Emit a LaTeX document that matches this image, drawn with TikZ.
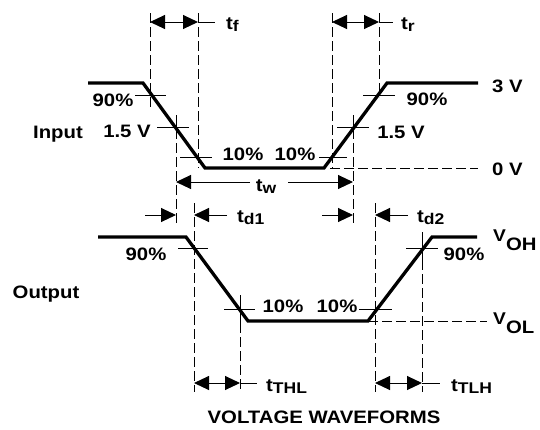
\documentclass[tikz,border=0pt]{standalone}
\usepackage{fontspec}
\usepackage{graphicx}
\setmainfont{Liberation Sans}
\usetikzlibrary{arrows.meta}
\newcommand{\wt}[1]{\scalebox{1.13}[1]{#1}}
\newcommand{\lsub}[2]{\wt{#1\raisebox{-2.5pt}{\fontsize{15.5}{15.5}\selectfont #2}}}
\newcommand{\vsub}[2]{\wt{{\fontsize{17}{17}\selectfont #1}\raisebox{-9pt}{#2}}}
\begin{document}
\begin{tikzpicture}[x=1pt,y=-1pt,
  wave/.style={line width=3.3pt, line join=miter},
  tickline/.style={line width=1pt},
  guide/.style={line width=1pt, dash pattern=on 10pt off 4pt},
  dimarrow/.style={line width=1pt, -{Triangle[length=15pt,width=14pt]}},
  dimboth/.style={line width=1pt, {Triangle[length=15pt,width=14pt]}-{Triangle[length=15pt,width=14pt]}},
  dimline/.style={line width=1pt},
  lbl/.style={font=\fontsize{18}{18}\selectfont\bfseries, inner sep=0pt, anchor=base},
  lblw/.style={lbl, anchor=base west},
  ]
\useasboundingbox (0,0) rectangle (540,429);

% ---------- input waveform ----------
\coordinate (i0) at (88,83);
\coordinate (i1) at (143,83);
\coordinate (i2) at (205,168);
\coordinate (i3) at (324,168);
\coordinate (i4) at (387,83);
\coordinate (i5) at (478,83);
\draw[wave] (i0) -- (i1) -- (i2) -- (i3) -- (i4) -- (i5);

% input guides
\coordinate (gA1) at (150,13);  \coordinate (gA2) at (150,108);
\coordinate (gB1) at (198,13);  \coordinate (gB2) at (198,168);
\coordinate (gC1) at (176,115); \coordinate (gC2) at (176,223);
\coordinate (gD1) at (332,13);  \coordinate (gD2) at (332,168);
\coordinate (gE1) at (353,115); \coordinate (gE2) at (353,223);
\coordinate (gF1) at (379,13);  \coordinate (gF2) at (379,97);
\coordinate (zv1) at (330,168); \coordinate (zv2) at (478,168);
\draw[guide] (gA1) -- (gA2);
\draw[guide] (gB1) -- (gB2);
\draw[guide] (gC1) -- (gC2);
\draw[guide] (gD1) -- (gD2);
\draw[guide] (gE1) -- (gE2);
\draw[guide] (gF1) -- (gF2);
\draw[guide] (zv1) -- (zv2);

% input ticks
\coordinate (t1a) at (135,95);  \coordinate (t1b) at (166,95);
\coordinate (t2a) at (157,127); \coordinate (t2b) at (189,127);
\coordinate (t3a) at (180,157); \coordinate (t3b) at (212,157);
\coordinate (t4a) at (319,157); \coordinate (t4b) at (347,157);
\coordinate (t5a) at (337,127); \coordinate (t5b) at (369,127);
\coordinate (t6a) at (363,95);  \coordinate (t6b) at (395,95);
\coordinate (v1a) at (176,115); \coordinate (v1b) at (176,139);
\coordinate (v2a) at (353,115); \coordinate (v2b) at (353,139);
\foreach \a/\b in {t1a/t1b,t2a/t2b,t3a/t3b,t4a/t4b,t5a/t5b,t6a/t6b,v1a/v1b,v2a/v2b}
  \draw[tickline] (\a) -- (\b);

% input dimension arrows
\coordinate (tfL) at (150,22); \coordinate (tfR) at (198,22); \coordinate (tfE) at (215,22);
\draw[dimboth] (tfL) -- (tfR);
\draw[dimline] (tfR) -- (tfE);
\node[lblw] (tf) at (226,29) {\lsub{t}{f}};

\coordinate (trL) at (332,22); \coordinate (trR) at (379,22); \coordinate (trE) at (393,22);
\draw[dimboth] (trL) -- (trR);
\draw[dimline] (trR) -- (trE);
\node[lblw] (tr) at (401,29) {\lsub{t}{r}};

\coordinate (twL) at (176,182); \coordinate (twR) at (353,182);
\coordinate (twa) at (250,182); \coordinate (twb) at (288,182);
\node[lbl] (tw) at (266,191) {\lsub{t}{w}};
\draw[dimarrow] (twa) -- (twL);
\draw[dimarrow] (twb) -- (twR);

% input labels
\node[lbl] (lin) at (58,138) {\wt{Input}};
\node[lbl] (p90a) at (113,106) {\wt{90\%}};
\node[lbl] (v15a) at (127,137) {\wt{1.5 V}};
\node[lbl] (p10a) at (243,160) {\wt{10\%}};
\node[lbl] (p10b) at (295,160) {\wt{10\%}};
\node[lbl] (v15b) at (401,138) {\wt{1.5 V}};
\node[lbl] (p90b) at (427,105) {\wt{90\%}};
\node[lblw] (v3) at (492,92) {\wt{3 V}};
\node[lblw] (v0) at (492,175) {\wt{0 V}};

% ---------- output waveform ----------
\coordinate (o0) at (98,237);
\coordinate (o1) at (186,237);
\coordinate (o2) at (248,321);
\coordinate (o3) at (368,321);
\coordinate (o4) at (432,237);
\coordinate (o5) at (477,237);
\draw[wave] (o0) -- (o1) -- (o2) -- (o3) -- (o4) -- (o5);

% output guides
\coordinate (hA1) at (194,203); \coordinate (hA2) at (194,392);
\coordinate (hB1) at (240,295); \coordinate (hB2) at (240,392);
\coordinate (hC1) at (375,203); \coordinate (hC2) at (375,392);
\coordinate (hD1) at (422,232); \coordinate (hD2) at (422,392);
\coordinate (vl1) at (368,321); \coordinate (vl2) at (487,321);
\draw[guide] (hA1) -- (hA2);
\draw[guide] (hB1) -- (hB2);
\draw[guide] (hC1) -- (hC2);
\draw[guide] (hD1) -- (hD2);
\draw[guide] (vl1) -- (vl2);

% output ticks
\coordinate (u1a) at (178,248); \coordinate (u1b) at (208,248);
\coordinate (u2a) at (224,309); \coordinate (u2b) at (255,309);
\coordinate (u3a) at (359,309); \coordinate (u3b) at (392,309);
\coordinate (u4a) at (406,248); \coordinate (u4b) at (438,248);
\coordinate (w1a) at (240,295); \coordinate (w1b) at (240,323);
\coordinate (w2a) at (422,234); \coordinate (w2b) at (422,262);
\foreach \a/\b in {u1a/u1b,u2a/u2b,u3a/u3b,u4a/u4b,w1a/w1b,w2a/w2b}
  \draw[tickline] (\a) -- (\b);

% output dimension arrows
\coordinate (d1s) at (145,215); \coordinate (d1t) at (176,215);
\coordinate (d1u) at (227,215); \coordinate (d1v) at (194,215);
\draw[dimarrow] (d1s) -- (d1t);
\draw[dimarrow] (d1u) -- (d1v);
\node[lblw] (td1) at (237,222) {\lsub{t}{d1}};

\coordinate (d2s) at (322,215); \coordinate (d2t) at (353,215);
\coordinate (d2u) at (408,215); \coordinate (d2v) at (375,215);
\draw[dimarrow] (d2s) -- (d2t);
\draw[dimarrow] (d2u) -- (d2v);
\node[lblw] (td2) at (417,222) {\lsub{t}{d2}};

\coordinate (thL) at (194,383); \coordinate (thR) at (240,383); \coordinate (thE) at (257,383);
\draw[dimboth] (thL) -- (thR);
\draw[dimline] (thR) -- (thE);
\node[lblw] (tthl) at (266,391) {\lsub{t}{THL}};

\coordinate (tlL) at (375,383); \coordinate (tlR) at (422,383); \coordinate (tlE) at (440,383);
\draw[dimboth] (tlL) -- (tlR);
\draw[dimline] (tlR) -- (tlE);
\node[lblw] (ttlh) at (451,391) {\lsub{t}{TLH}};

% output labels
\node[lbl] (lout) at (46,298) {\wt{Output}};
\node[lbl] (p90c) at (146,260) {\wt{90\%}};
\node[lbl] (p10c) at (283,312) {\wt{10\%}};
\node[lbl] (p10d) at (337,312) {\wt{10\%}};
\node[lbl] (p90d) at (464,260) {\wt{90\%}};
\node[lblw] (voh) at (493,241) {\vsub{V}{OH}};
\node[lblw] (vol) at (493,324) {\vsub{V}{OL}};

\node[lbl] (title) at (324,423) {\wt{VOLTAGE WAVEFORMS}};
\end{tikzpicture}
\end{document}
